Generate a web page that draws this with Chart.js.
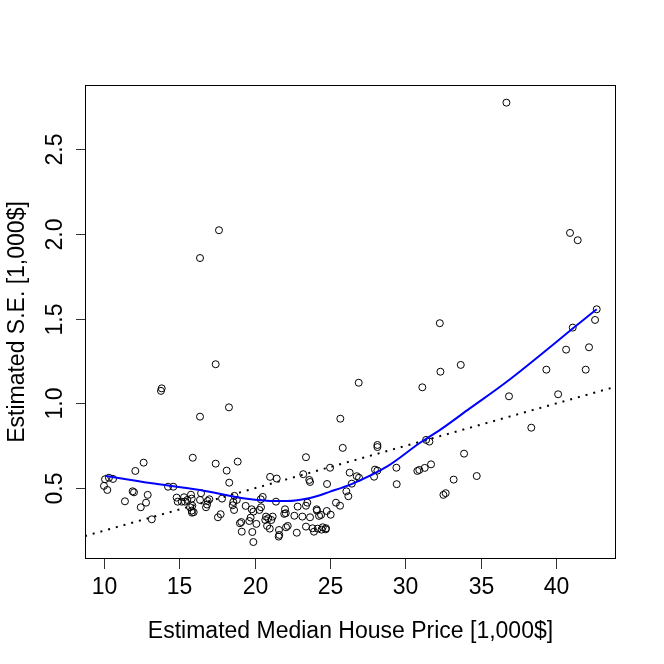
<!DOCTYPE html>
<html>
<head>
<meta charset="utf-8">
<script src="https://cdn.jsdelivr.net/npm/chart.js@4/dist/chart.umd.min.js"></script>
<style>
  body { margin: 0; background: #fff; }
  canvas { display: block; }
</style>
</head>
<body>
<canvas id="chart" width="664" height="664"></canvas>
<script>
// estimated median price vs estimated standard error
const priceX = [
  17.63, 16.37, 17.41, 13.83, 13.78, 18.29, 16.37, 32.28, 26.90, 25.68,
  31.12, 32.32, 33.67, 36.70, 40.92, 41.43, 42.69, 42.58, 41.10, 40.66,
  42.18, 39.35, 41.96, 36.87, 40.13, 38.35, 33.89, 33.20, 34.73, 32.52,
  32.67, 25.84, 28.14, 28.14, 29.40, 29.42, 27.92, 27.98, 28.14, 31.37,
  31.59, 30.79, 30.92, 31.28, 31.70, 25.00, 26.30, 24.80, 26.44, 26.77,
  26.92, 26.08, 26.21, 25.39, 25.66, 24.40, 25.04, 24.78, 24.51, 24.73,
  17.41, 18.87, 18.14, 18.31, 23.40, 21.02, 21.46, 23.22, 23.62, 23.67,
  16.88, 16.99, 16.77, 17.83, 17.56, 17.74, 18.65, 18.58, 18.54, 18.63,
  18.81, 19.40, 19.11, 19.02, 19.14, 19.91, 19.84, 19.73, 19.64, 19.80,
  19.91, 20.40, 20.53, 20.31, 20.42, 20.11, 20.75, 20.70, 20.82, 20.90,
  21.10, 21.19, 21.00, 21.41, 22.01, 21.96, 22.06, 22.19, 22.08, 21.61,
  21.63, 21.59, 22.79, 22.63, 23.16, 23.67, 22.85, 23.40, 23.49, 24.13,
  24.27, 24.11, 23.84, 23.93, 24.18, 24.44, 24.71, 23.40, 15.89, 12.63,
  12.08, 10.07, 10.33, 10.60, 10.00, 10.22, 11.90, 11.99, 11.39, 12.90,
  12.79, 12.44, 13.17, 14.25, 14.60, 14.82, 14.89, 15.16, 15.31, 15.37,
  15.53, 15.82, 15.77, 15.71, 15.86, 15.82, 15.95, 15.84, 16.44, 16.37,
  16.84
];
const seY = [
  2.021, 1.857, 1.231, 1.089, 1.074, 0.977, 0.922, 1.473, 1.122, 0.910,
  1.095, 1.187, 1.227, 2.773, 2.005, 1.962, 1.555, 1.492, 1.447, 1.317,
  1.331, 1.199, 1.199, 1.042, 1.054, 0.857, 0.704, 0.551, 0.572, 0.461,
  0.471, 0.738, 0.755, 0.743, 0.621, 0.524, 0.568, 0.610, 0.604, 0.785,
  0.775, 0.602, 0.608, 0.620, 0.641, 0.621, 0.592, 0.525, 0.527, 0.571,
  0.562, 0.482, 0.453, 0.415, 0.397, 0.343, 0.344, 0.366, 0.270, 0.264,
  0.645, 0.657, 0.604, 0.533, 0.683, 0.567, 0.557, 0.583, 0.549, 0.537,
  0.425, 0.435, 0.388, 0.439, 0.329, 0.347, 0.455, 0.419, 0.400, 0.372,
  0.431, 0.396, 0.301, 0.294, 0.244, 0.183, 0.242, 0.327, 0.307, 0.376,
  0.362, 0.435, 0.449, 0.372, 0.388, 0.290, 0.333, 0.313, 0.278, 0.323,
  0.313, 0.333, 0.262, 0.421, 0.376, 0.349, 0.353, 0.278, 0.270, 0.254,
  0.225, 0.215, 0.238, 0.338, 0.333, 0.329, 0.392, 0.397, 0.415, 0.368,
  0.337, 0.376, 0.264, 0.244, 0.262, 0.256, 0.258, 0.274, 0.680, 0.651,
  0.602, 0.553, 0.562, 0.555, 0.514, 0.490, 0.482, 0.476, 0.423, 0.461,
  0.415, 0.388, 0.317, 0.509, 0.509, 0.445, 0.421, 0.421, 0.447, 0.421,
  0.431, 0.439, 0.462, 0.388, 0.397, 0.368, 0.359, 0.356, 0.471, 0.431,
  0.404
];

// smooth (blue) curve
const loessX = [10.07, 13.05, 16.37, 19.22, 20.80, 22.12, 23.67, 25.00, 26.54, 28.76, 30.97, 32.30, 34.29, 36.72, 41.80, 42.69];
const loessY = [0.574, 0.531, 0.490, 0.441, 0.427, 0.425, 0.443, 0.480, 0.529, 0.627, 0.768, 0.844, 0.972, 1.128, 1.492, 1.555];

// dotted reference line
const refX = [8.74, 43.97];
const refY = [0.2185, 1.099];

const xTicks = [10, 15, 20, 25, 30, 35, 40];
const yTicks = [0.5, 1.0, 1.5, 2.0, 2.5];
const xTitle = "Estimated Median House Price [1,000$]";
const yTitle = "Estimated S.E. [1,000$]";

const FONT = "23px 'Liberation Sans', Arial, sans-serif";

function pairs(xs, ys) {
  return xs.map((x, i) => ({ x: x, y: ys[i] }));
}

// box, ticks and labels drawn R-style
const rAxes = {
  id: "rAxes",
  afterDraw(chart) {
    const c = chart.ctx;
    const a = chart.chartArea;
    const xs = chart.scales.x;
    const ys = chart.scales.y;
    c.save();
    c.strokeStyle = "#000";
    c.lineWidth = 1;
    c.strokeRect(a.left + 0.5, a.top + 0.5, a.right - a.left - 1, a.bottom - a.top - 1);

    c.strokeStyle = "#333";
    c.fillStyle = "#000";
    c.font = FONT;
    c.textAlign = "center";
    c.textBaseline = "alphabetic";
    xTicks.forEach(function (v) {
      const px = Math.round(xs.getPixelForValue(v)) + 0.5;
      c.beginPath();
      c.moveTo(px, a.bottom);
      c.lineTo(px, a.bottom + 10);
      c.stroke();
      c.fillText(String(v), px, 594);
    });
    c.fillText(xTitle, (a.left + a.right) / 2, 638);

    yTicks.forEach(function (v) {
      const py = Math.round(ys.getPixelForValue(v)) + 0.5;
      c.beginPath();
      c.moveTo(a.left - 9, py);
      c.lineTo(a.left, py);
      c.stroke();
      c.save();
      c.translate(62, py);
      c.rotate(-Math.PI / 2);
      c.fillText(v.toFixed(1), 0, 0);
      c.restore();
    });
    c.save();
    c.translate(24, (a.top + a.bottom) / 2);
    c.rotate(-Math.PI / 2);
    c.fillText(yTitle, 0, 0);
    c.restore();
    c.restore();
  },
};

const ctx = document.getElementById("chart");

const chart = new Chart(ctx, {
  type: "scatter",
  plugins: [rAxes],
  data: {
    datasets: [
      {
        data: pairs(priceX, seY),
        pointStyle: "circle",
        pointRadius: 3.5,
        pointBorderWidth: 1,
        borderColor: "#000",
        backgroundColor: "rgba(0,0,0,0)",
        order: 3,
      },
      {
        type: "line",
        data: pairs(refX, refY),
        borderColor: "#000",
        borderWidth: 2,
        borderDash: [2, 6],
        borderCapStyle: "butt",
        pointRadius: 0,
        fill: false,
        order: 2,
      },
      {
        type: "line",
        data: pairs(loessX, loessY),
        borderColor: "#0000FF",
        borderWidth: 2,
        cubicInterpolationMode: "monotone",
        pointRadius: 0,
        fill: false,
        order: 1,
      },
    ],
  },
  options: {
    responsive: false,
    animation: false,
    devicePixelRatio: 1,
    layout: {
      padding: { left: 85, top: 85, right: 48, bottom: 105 },
    },
    scales: {
      x: { type: "linear", min: 8.74, max: 43.97, display: false },
      y: { type: "linear", min: 0.083, max: 2.877, display: false },
    },
    plugins: {
      legend: { display: false },
      tooltip: { enabled: false },
    },
  },
});
</script>
</body>
</html>
